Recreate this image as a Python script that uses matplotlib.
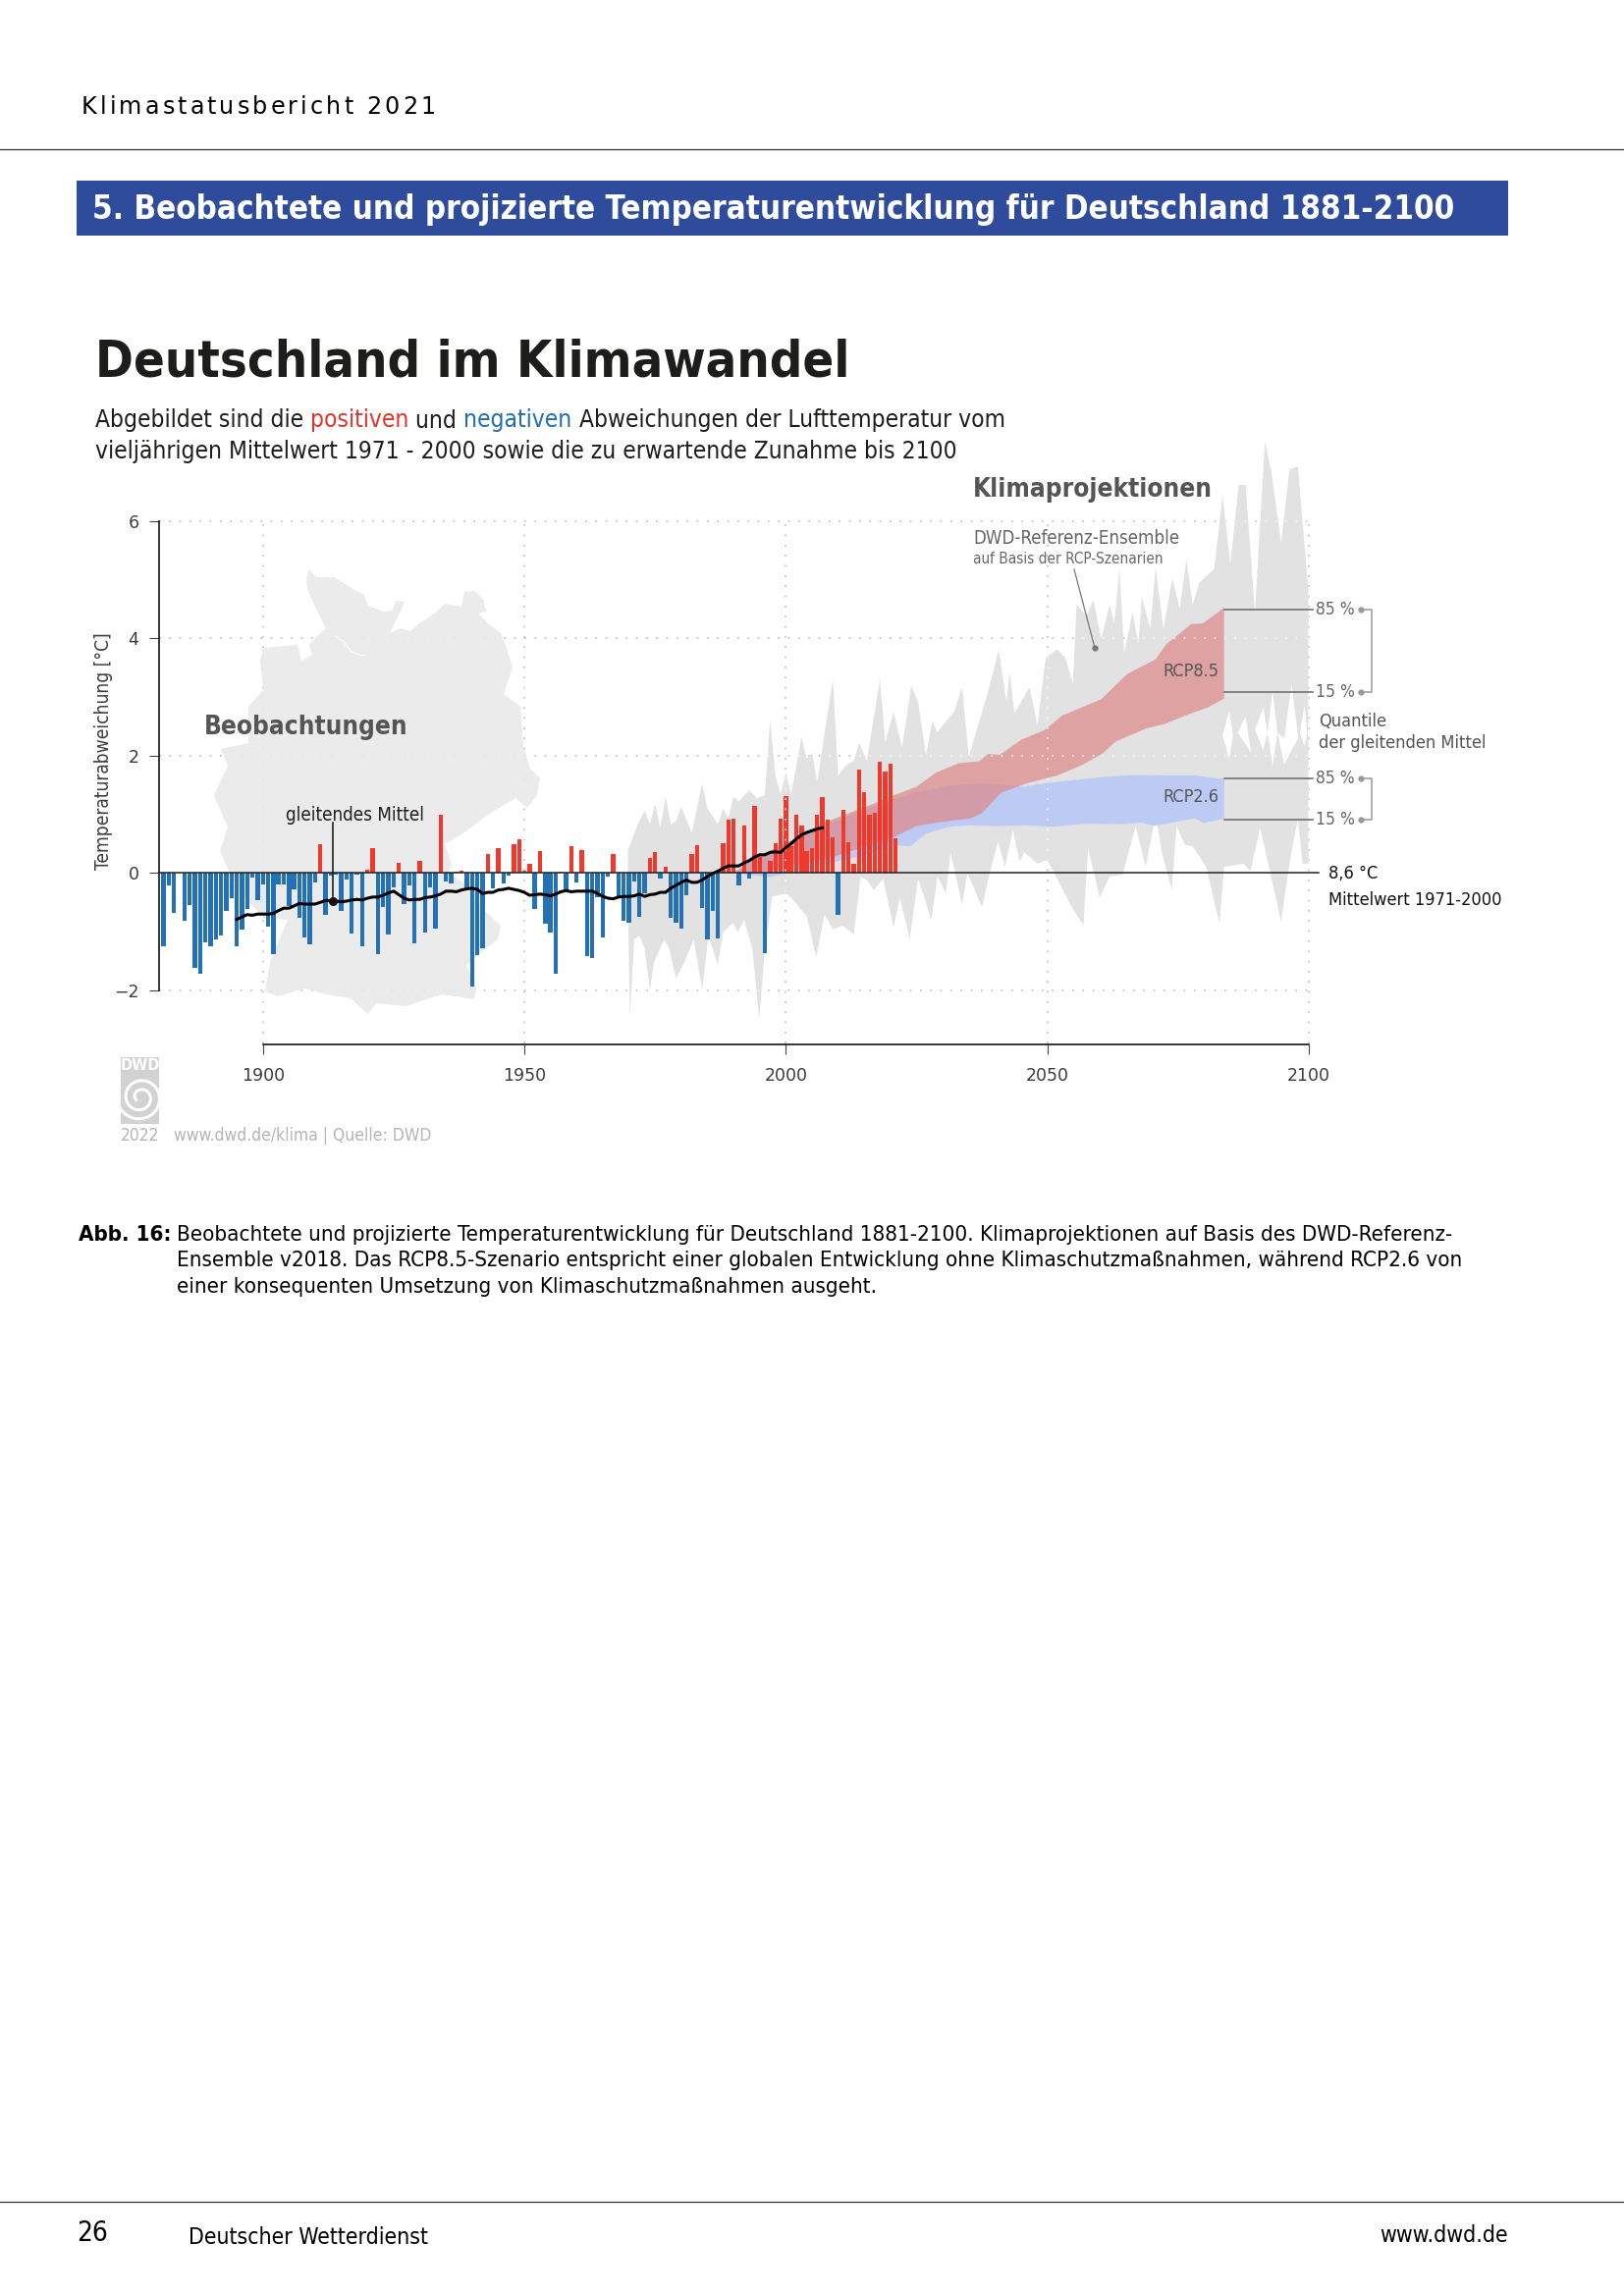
import numpy as np
import matplotlib
matplotlib.use("Agg")
import matplotlib.pyplot as plt
from matplotlib.patches import Rectangle

plt.rcParams['font.family'] = ['DejaVu Sans']

# yearly anomaly from 1971-2000 mean, 1881-2021
years = np.arange(1881, 2022)
anomaly = [-1.25, -0.22, -0.68, 0.0, -0.81, -0.54, -1.61, -1.71, -1.18, -1.25,
           -1.14, -1.06, -0.65, -0.43, -1.25, -0.97, -0.61, -0.07, -0.47, -0.2,
           -0.91, -1.39, -0.2, -0.2, -0.57, -0.28, -0.76, -1.09, -1.21, -0.16,
           0.49, -0.71, -0.04, -0.03, -0.64, -0.11, -1.03, -0.02, -1.25, 0.05,
           0.43, -1.38, -0.58, -1.04, -0.25, 0.18, -0.53, -0.21, -1.2, 0.2,
           -1.01, -0.24, -0.94, 0.99, -0.14, -0.18, 0.02, 0.04, -0.26, -1.93,
           -1.40, -1.28, 0.32, -0.27, 0.42, -0.18, -0.04, 0.49, 0.58, 0.04,
           0.16, -0.61, 0.38, -0.86, -1.01, -1.72, 0.02, -0.29, 0.46, -0.16,
           0.39, -1.41, -1.45, -0.42, -1.09, -0.06, 0.32, -0.4, -0.81, -0.84,
           -0.14, -0.74, -0.35, 0.26, 0.36, -0.09, 0.11, -0.77, -0.84, -0.94,
           -0.38, 0.33, 0.48, -0.59, -1.14, -0.64, -1.11, 0.5, 0.91, 0.92,
           -0.21, 0.81, -0.09, 1.14, 0.27, -1.36, 0.21, 0.5, 0.92, 1.31,
           0.45, 0.99, 0.81, 0.38, 0.43, 0.99, 1.29, 0.91, 0.61, -0.71,
           1.07, 0.52, 0.16, 1.76, 1.38, 0.99, 1.02, 1.89, 1.72, 1.86,
           0.59]

# moving mean 1895-2007
mean_years = np.arange(1895, 2008)
moving_mean = [-0.79, -0.75, -0.71, -0.72, -0.70, -0.70,
               -0.70, -0.69, -0.64, -0.60, -0.60, -0.56, -0.52, -0.53, -0.53, -0.53,
               -0.50, -0.47, -0.47, -0.48, -0.49, -0.48, -0.46, -0.45, -0.46, -0.43,
               -0.41, -0.41, -0.38, -0.34, -0.31, -0.37, -0.43, -0.46, -0.45, -0.45,
               -0.42, -0.41, -0.39, -0.36, -0.31, -0.31, -0.32, -0.29, -0.27, -0.26,
               -0.28, -0.35, -0.33, -0.33, -0.29, -0.28, -0.26, -0.28, -0.30, -0.33,
               -0.38, -0.37, -0.36, -0.37, -0.39, -0.36, -0.32, -0.30, -0.32, -0.31,
               -0.31, -0.31, -0.31, -0.35, -0.40, -0.43, -0.44, -0.41, -0.40, -0.40,
               -0.39, -0.36, -0.40, -0.37, -0.36, -0.33, -0.33, -0.26, -0.21, -0.16,
               -0.12, -0.16, -0.16, -0.12, -0.06, -0.01, 0.03, 0.08, 0.12, 0.12,
               0.12, 0.17, 0.21, 0.27, 0.31, 0.31, 0.35, 0.36, 0.35, 0.43,
               0.50, 0.58, 0.65, 0.69, 0.72, 0.75, 0.77]

# grey ensemble envelope
ens_up_years = [1969.8, 1971.7, 1973, 1974, 1975, 1976, 1977, 1978, 1979, 1980, 1981, 1982, 1984, 1985,
                1987, 1988, 1989, 1990, 1991, 1993, 1994.5, 1996, 1997, 1998, 1999, 2000, 2001, 2003,
                2004, 2005, 2006, 2009, 2010, 2011.5, 2013, 2014, 2015.5, 2018, 2019, 2020.6, 2022.2,
                2024, 2025.3, 2026.8, 2028, 2029, 2032.2, 2033.7, 2035, 2038.7, 2040.7, 2042.2, 2042.8,
                2043.7, 2046.6, 2048.1, 2049.7, 2051.9, 2053.4, 2054.9, 2055.6, 2057.5, 2058.8, 2060.3,
                2061.9, 2062.8, 2063.8, 2064.7, 2066.3, 2067.4, 2068.1, 2069.7, 2070.7, 2072.2, 2073.9,
                2075.3, 2076.6, 2077.8, 2079.1, 2081.9, 2083.5, 2085, 2086.6, 2087.9, 2089.7, 2091.6,
                2092.9, 2094.7, 2096.3, 2097.9, 2099.9]
ens_up = [0.38, 0.83, 1.06, 0.83, 1.17, 0.77, 1.30, 0.83, 0.88, 1.13, 0.91, 0.68, 1.52, 1.10,
          0.83, 1.10, 0.94, 1.30, 1.22, 1.41, 1.27, 1.33, 2.61, 1.66, 1.33, 1.72, 1.33, 2.32,
          1.94, 2.05, 1.55, 3.3, 1.66, 1.83, 1.91, 2.22, 1.91, 3.3, 2.22, 2.75, 2.14,
          3.19, 2.91, 2.01, 2.59, 2.40, 2.75, 3.16, 1.98, 3.10, 3.80, 2.91, 3.42,
          2.72, 3.16, 2.52, 3.67, 3.81, 3.67, 3.23, 4.57, 4.38, 4.66, 3.99,
          4.57, 4.25, 5.18, 3.74, 4.44, 3.90, 4.70, 4.15, 5.21, 4.15, 5.02,
          4.50, 5.34, 4.57, 4.95, 5.18, 6.42, 5.27, 6.61, 6.61, 4.44, 7.35,
          6.81, 5.62, 6.87, 6.93, 4.82]
ens_low_years = [1969.8, 1970.2, 1971, 1972, 1973, 1974, 1974.8, 1976.7, 1977.7, 1979, 1980.5, 1982.4, 1984,
                 1985.2, 1987, 1988, 1989.9, 1990.8, 1992, 1993.6, 1994.9, 1996, 1997.4, 2000.2, 2001.4,
                 2004, 2005.8, 2007.4, 2009, 2010.8, 2013, 2014.3, 2015.5, 2016.8, 2018.6, 2020.6, 2021.8,
                 2023.7, 2025.3, 2026.5, 2027.8, 2029, 2030.6, 2031.5, 2033.7, 2034.7, 2037.5, 2039, 2040.6,
                 2041.9, 2043.4, 2044.7, 2045.6, 2048.1, 2050, 2051.9, 2054.4, 2056.9, 2057.8, 2060, 2061.9,
                 2064.4, 2066.9, 2068.8, 2070.7, 2071.9, 2073.8, 2074.7, 2076.3, 2077.8, 2080.4, 2082.9,
                 2083.8, 2087.5, 2088.8, 2090.7, 2094.7, 2096.3, 2097.9, 2098.8, 2099.9]
ens_low = [-0.5, -2.46, -1.13, -1.07, -1.29, -1.99, -1.52, -1.13, -1.29, -1.79, -1.54, -1.13, -1.99,
           -1.07, -1.57, -1.01, -0.85, -1.01, -0.79, -1.29, -2.49, -1.29, -0.4, -0.35, -0.46,
           -0.74, -1.43, -0.71, -0.96, -0.9, -1.04, -0.07, -0.12, -0.29, -0.1, -0.93, -0.42,
           -1.12, -0.10, -0.42, -0.80, -0.06, -0.35, 0.35, -0.54, 0.0, -0.58, 0.0, 0.54,
           0.10, 0.73, 0.19, 0.35, 0.16, 0.22, -0.10, -0.54, -0.89, 0.42, -0.42, -0.06,
           -0.03, 0.80, 0.10, 0.99, 0.35, -0.29, 0.80, 0.48, 0.45, 0.10, -0.86,
           0.10, 0.16, 0.03, 0.77, -0.83, 0.16, 0.93, 0.16, 0.16]

# white gaps in the envelope towards 2100
gap_years = [2083.4, 2084.7, 2085.4, 2086.3, 2087.8, 2088.9, 2089.6, 2091.2, 2092.0, 2093.0, 2093.9,
             2095.2, 2096.6, 2097.9, 2098.2, 2099.1, 2099.6]
gap_top = [2.35, 2.78, 2.35, 2.40, 2.67, 2.05, 2.45, 2.83, 2.40, 3.11, 2.40, 2.30, 3.22, 2.30, 2.40, 2.86, 2.40]
gap_bot = [2.35, 1.94, 2.35, 2.40, 2.20, 2.05, 2.45, 2.10, 2.40, 1.83, 2.40, 1.85, 2.10, 2.30, 2.40, 2.16, 2.40]

# RCP bands (15 / 85 % of moving means)
rcp85_years = [1990, 1995, 2000, 2005, 2008, 2013, 2017.7, 2020.6, 2025, 2028.7, 2033.1, 2036.9, 2038.7, 2040.9,
               2045, 2049.4, 2052.8, 2056.3, 2060.3, 2065.3, 2070.7, 2072.8, 2077.5, 2079.7, 2083.8]
rcp85_up = [0.0, 0.3, 0.5, 0.75, 0.88, 1.05, 1.21, 1.32, 1.47, 1.71, 1.87, 1.90, 2.03, 2.01,
            2.27, 2.43, 2.68, 2.81, 2.96, 3.39, 3.64, 3.90, 4.24, 4.25, 4.52]
rcp85_low_years = [1990, 1995, 2000, 2005, 2010, 2015, 2020.6, 2025, 2029, 2035.3, 2037.5, 2041.2, 2046.2,
                   2051.9, 2056.9, 2060.6, 2063.1, 2068.8, 2072.5, 2076.9, 2080.7, 2083.8]
rcp85_low = [0.0, 0.0, 0.1, 0.2, 0.3, 0.45, 0.61, 0.80, 0.86, 0.93, 1.02, 1.37, 1.53,
             1.66, 1.85, 2.04, 2.24, 2.46, 2.54, 2.70, 2.82, 2.97]
rcp26_years = [1990, 1995, 2000, 2005, 2010, 2015, 2020.6, 2025, 2031.2, 2037.5, 2040.6, 2045.6, 2048.1,
               2053.8, 2060, 2066.9, 2073.8, 2078.2, 2083.8]
rcp26_up = [0.0, 0.3, 0.5, 0.72, 0.9, 1.08, 1.25, 1.37, 1.49, 1.53, 1.51, 1.47, 1.51,
            1.57, 1.63, 1.67, 1.66, 1.66, 1.60]
rcp26_low_years = [1990, 1995, 1997, 2000, 2005, 2010, 2015, 2020.6, 2023.7, 2026.8, 2031.2, 2035, 2040.6,
                   2045.6, 2051.2, 2057.5, 2063.8, 2068.1, 2070.3, 2073.8, 2078.2, 2080, 2083.8]
rcp26_low = [0.0, -0.05, -0.07, 0.0, 0.1, 0.2, 0.3, 0.48, 0.45, 0.67, 0.79, 0.81, 0.80,
             0.81, 0.79, 0.84, 0.83, 0.86, 0.80, 0.86, 0.93, 0.85, 0.93]

x_ticks = [1900, 1950, 2000, 2050, 2100]
y_ticks = [-2, 0, 2, 4, 6]
y_tick_labels = ['\u22122', '0', '2', '4', '6']
quantile_vals = [4.49, 3.08, 1.61, 0.91]
quantile_labels = ['85 %', '15 %', '85 %', '15 %']

# map of germany behind the chart, page pixels
map_x = [315, 322, 340, 363, 370, 375, 390, 400, 403, 412, 408, 397, 407, 418, 427, 443, 453, 470, 473, 483,
         492, 495, 487, 497, 510, 515, 522, 513, 530, 533, 540, 550, 547, 537, 525, 500, 473, 453, 460, 457,
         477, 493, 510, 507, 490, 475, 485, 483, 450, 413, 383, 375, 357, 333, 310, 283, 270, 275, 293, 268,
         243, 233, 224, 232, 218, 232, 225, 253, 253, 268, 265, 268, 303, 307, 318, 315, 323, 332, 322, 313, 312]
map_y = [580, 588, 588, 602, 605, 617, 623, 622, 612, 613, 622, 645, 640, 643, 635, 625, 615, 618, 603, 602,
         610, 623, 625, 635, 645, 657, 680, 707, 720, 760, 783, 793, 810, 823, 813, 828, 848, 860, 880, 889,
         903, 927, 943, 957, 970, 983, 1007, 1018, 1013, 1025, 1022, 1033, 1017, 1013, 1007, 1015, 1010, 980, 937, 935,
         907, 887, 867, 843, 810, 780, 763, 757, 720, 703, 673, 660, 657, 673, 667, 657, 648, 640, 620, 600, 590]
elbe_x = [342, 350, 358, 366, 372]
elbe_y = [648, 654, 664, 667, 668]

W, H = 1654, 2339
fig = plt.figure(figsize=(W / 100, H / 100), dpi=100, facecolor='white')


def layer(z):
    a = fig.add_axes([0, 0, 1, 1], zorder=z)
    a.set_xlim(0, W)
    a.set_ylim(H, 0)
    a.axis('off')
    return a


# page layers in pixels, below and above the chart
page = layer(0)
top = layer(2)


def txt(x, y, s, size, color='black', weight='normal', ha='left', stretch='condensed', **kw):
    return top.text(x, y, s, fontsize=size, color=color, fontweight=weight, ha=ha, va='center',
                    fontstretch=stretch, **kw)


def width_of(s, size, stretch='condensed'):
    r = fig.canvas.get_renderer()
    a = top.text(0, 0, s + '|', fontsize=size, fontstretch=stretch)
    b = top.text(0, 0, '|', fontsize=size, fontstretch=stretch)
    w = a.get_window_extent(r).width - b.get_window_extent(r).width
    a.remove()
    b.remove()
    return w


def colored(x, y, parts, size):
    # pieces of one line in different colours
    done = ''
    for s, c in parts:
        txt(x + width_of(done, size), y, s, size, color=c)
        done += s


def spaced(x, y, s, size, gap):
    # letter spacing by hand, header only
    for i, ch in enumerate(s):
        txt(x + width_of(s[:i], size, stretch='normal') + i * gap, y, ch, size, stretch='normal')


# header, footer
page.plot([0, W], [152, 152], color='#333333', lw=0.9)
page.plot([0, W], [2243, 2243], color='#333333', lw=0.9)
spaced(83, 108.5, 'Klimastatusbericht 2021', 17.2, 3.1)
page.add_patch(Rectangle((78, 184), 1458, 56, color='#2e4c9b', lw=0))
txt(94, 213, '5. Beobachtete und projizierte Temperaturentwicklung für Deutschland 1881-2100', 23.8, color='white', weight='bold')
txt(97, 369, 'Deutschland im Klimawandel', 37.6, color='#1d1d1b', weight='bold')
colored(97, 428.5, [('Abgebildet sind die ', '#1d1d1b'), ('positiven', '#e2352a'), (' und ', '#1d1d1b'),
                    ('negativen', '#1f6fb0'),
                    (' Abweichungen der Lufttemperatur vom', '#1d1d1b')], 17.6)
txt(97, 459.5, 'vieljährigen Mittelwert 1971 - 2000 sowie die zu erwartende Zunahme bis 2100', 17.6, color='#1d1d1b')

txt(80, 1258, 'Abb. 16:', 16, weight='bold')
txt(180, 1258, 'Beobachtete und projizierte Temperaturentwicklung für Deutschland 1881-2100. Klimaprojektionen auf Basis des DWD-Referenz-', 16)
txt(180, 1284.5, 'Ensemble v2018. Das RCP8.5-Szenario entspricht einer globalen Entwicklung ohne Klimaschutzmaßnahmen, während RCP2.6 von', 16)
txt(180, 1311, 'einer konsequenten Umsetzung von Klimaschutzmaßnahmen ausgeht.', 16)

txt(78, 2275, '26', 20)
txt(192, 2279, 'Deutscher Wetterdienst', 16.5)
txt(1536, 2278, 'www.dwd.de', 16.5, ha='right')

# germany
germany = page.fill(map_x, map_y, color='#ebebeb', lw=0, zorder=1)[0]
page.plot(elbe_x, elbe_y, color='white', lw=0.8, zorder=1.2)

# dwd logo
page.add_patch(Rectangle((123, 1077), 39, 68, color='#d2d2d2', lw=0, zorder=2))
txt(142.5, 1086, 'DWD', 10.5, color='white', weight='bold', ha='center', stretch='normal')
theta = np.linspace(0, 4.2 * np.pi, 200)
r = 5 + 1.45 * theta
page.plot(143 + r * np.cos(theta + 2.6), 1118 + r * np.sin(theta + 2.6), color='white', lw=2.2, zorder=3)
txt(123, 1157, '2022', 12.5, color='#b5b5b5')
txt(177, 1157, 'www.dwd.de/klima | Quelle: DWD', 12.5, color='#b5b5b5')

# chart layer, one year = 5.327 px and one degree = 59.8 px
ax = fig.add_axes([161.7 / W, 1 - 1064.3 / H, (1333 - 161.7) / W, (1064.3 - 440.8) / H], zorder=1)
ax.patch.set_alpha(0)
ax.set_xlim(1880.1, 2100)
ax.set_ylim(-2.926, 7.5)
for side in ['top', 'right']:
    ax.spines[side].set_visible(False)
ax.spines['left'].set_bounds(-2, 6)
ax.spines['bottom'].set_bounds(1900, 2100)
ax.spines['left'].set_linewidth(1.1)
ax.spines['bottom'].set_linewidth(1.1)
ax.set_xticks(x_ticks)
ax.set_yticks(y_ticks)
ax.set_yticklabels(y_tick_labels)
ax.tick_params(axis='both', length=7.5, width=0.8, labelsize=12.5, labelcolor='#3c3c3c', color='#444444', pad=7)
ax.tick_params(axis='x', pad=9)
ax.set_ylabel('Temperaturabweichung [°C]', fontsize=13.8, color='#3c3c3c', va='center', fontstretch='condensed')
ax.yaxis.set_label_coords(-0.0476, 0.48)

dots = (0, (1, 5.2))
for y in [-2, 2, 4, 6]:
    ax.plot([1880.1, 2101.3], [y, y], color='#bdbdbd', lw=1.2, ls=dots, clip_on=False, zorder=1)
for x in x_ticks:
    ax.plot([x, x], [-2.9, 6], color='#bdbdbd', lw=1.2, ls=dots, clip_on=False, zorder=1)

band = ax.fill(np.r_[ens_up_years, ens_low_years[::-1]], np.r_[ens_up, ens_low[::-1]], color='#e2e2e2', lw=0, zorder=2)[0]
ax.fill_between(gap_years, gap_bot, gap_top, color='white', lw=0, zorder=2.1)

ax.fill(np.r_[rcp26_years, rcp26_low_years[::-1]], np.r_[rcp26_up, rcp26_low[::-1]], color='#bccaf4', lw=0, zorder=3)
ax.fill(np.r_[rcp85_years, rcp85_low_years[::-1]], np.r_[rcp85_up, rcp85_low[::-1]], color='#dd8888', alpha=0.7, lw=0, zorder=4)

colors = ['#ee3a2c' if v > 0 else '#2471b5' for v in anomaly]
ax.bar(years, anomaly, width=0.82, color=colors, lw=0, zorder=5)

# grid shows through as light dots on the grey areas
for shape, z in [(germany, 1.5), (band, 5.5)]:
    for y in [-2, 2, 4, 6]:
        ln, = ax.plot([1880.1, 2101.3], [y, y], color='#f4f4f4', lw=1.2, ls=dots, zorder=z)
        ln.set_clip_path(shape)
    for x in x_ticks:
        ln, = ax.plot([x, x], [-2.9, 6], color='#f4f4f4', lw=1.2, ls=dots, zorder=z)
        ln.set_clip_path(shape)

ax.plot([1880.1, 2101.9], [0, 0], color='#222222', lw=1.1, clip_on=False, zorder=6)
ax.plot(mean_years, moving_mean, color='black', lw=2.2, zorder=7)

# gleitendes Mittel label
ax.plot([1913.4, 1913.4], [-0.48, 0.85], color='#111111', lw=1.1, zorder=8)
ax.plot([1913.4], [-0.48], 'o', color='#111111', ms=5.5, zorder=8)
txt(291, 830, 'gleitendes Mittel', 13.5, color='#1d1d1b')

# quantile leaders on the right
for q, lab in zip(quantile_vals, quantile_labels):
    ax.plot([2083.8, 2100.8], [q, q], color='#666666', lw=1.1, clip_on=False, zorder=6)
    txt(1340, 889.3 - q * 59.8, lab, 12.5, color='#666666')
for a, b in [(quantile_vals[0], quantile_vals[1]), (quantile_vals[2], quantile_vals[3])]:
    ax.plot([2109.9, 2112, 2112, 2109.9], [a, a, b, b], color='#999999', lw=1.1, clip_on=False, zorder=6)
    ax.plot([2109.9, 2109.9], [a, b], 'o', color='#999999', ms=3.5, clip_on=False, zorder=6)

# pointer to ensemble
top.plot([1094, 1115], [580, 660], color='#777777', lw=0.9)
top.plot([1115], [660], 'o', color='#777777', ms=3.5)

txt(207.5, 741, 'Beobachtungen', 18.8, color='#555555', weight='bold')
txt(991, 499, 'Klimaprojektionen', 18.8, color='#555555', weight='bold')
txt(991, 549, 'DWD-Referenz-Ensemble', 13.4, color='#666666')
txt(991, 569, 'auf Basis der RCP-Szenarien', 11, color='#666666')
txt(1241, 684, 'RCP8.5', 13, color='#555555', ha='right')
txt(1241, 812, 'RCP2.6', 13, color='#555555', ha='right')
txt(1343, 735, 'Quantile', 13.1, color='#555555')
txt(1343, 757, 'der gleitenden Mittel', 13.1, color='#555555')
txt(1353, 890, '8,6 °C', 13.1, color='#111111')
txt(1353, 917, 'Mittelwert 1971-2000', 13.1, color='#111111')

fig.savefig('out.png', dpi=100)
